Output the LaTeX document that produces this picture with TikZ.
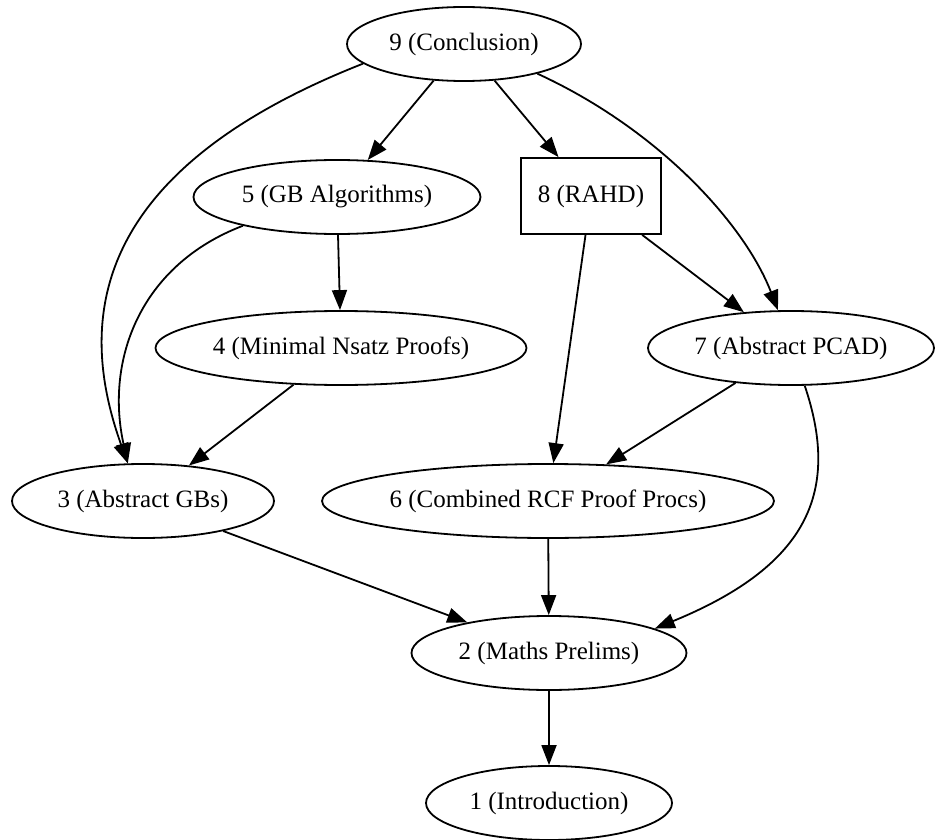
\documentclass[tikz,border=0pt]{standalone}
\usepackage{fontspec}
\setmainfont{Liberation Serif}
\usetikzlibrary{shapes.geometric,arrows.meta}
\tikzset{chap/.style={draw,ellipse,inner sep=0pt,minimum height=74pt,minimum width=#1},
    chapbox/.style={draw,rectangle,inner sep=0pt,minimum height=76pt,minimum width=140pt},
    every node/.style={font=\fontsize{25}{30}\selectfont},
    dep/.style={-{Triangle[length=20pt,width=15pt]}},
    }

\begin{document}
\begin{tikzpicture}[x=1pt,y=-1pt,line width=1.8pt]
\useasboundingbox (0,0) rectangle (935,840);
\node[chap=234] (concl) at (464,44) {9 (Conclusion)};
\node[chap=287] (gbalg) at (337,197) {5 (GB Algorithms)};
\node[chapbox] (rahd) at (591,196) {8 (RAHD)};
\node[chap=371] (nsatz) at (341,348) {4 (Minimal Nsatz Proofs)};
\node[chap=286] (pcad) at (791,348) {7 (Abstract PCAD)};
\node[chap=262] (absgb) at (143,501) {3 (Abstract GBs)};
\node[chap=452] (rcf) at (548,501) {6 (Combined RCF Proof Procs)};
\node[chap=275] (prelim) at (549,653) {2 (Maths Prelims)};
\node[chap=246] (intro) at (549,803) {1 (Introduction)};
% straight dependencies
\draw[dep] (concl) -- (gbalg);
\draw[dep] (concl) -- (rahd);
\draw[dep] (gbalg) -- (nsatz);
\draw[dep] (nsatz) -- (absgb);
\draw[dep] (rahd) -- (pcad);
\draw[dep] (rahd) -- (rcf);
\draw[dep] (pcad) -- (rcf);
\draw[dep] (absgb) -- (prelim);
\draw[dep] (rcf) -- (prelim);
\draw[dep] (prelim) -- (intro);
% curved ones
\draw[dep] (concl.191) .. controls (80,175) and (80,330) .. (absgb.112);
\draw[dep] (gbalg.197) .. controls (140,265) and (105,360) .. (absgb.112);
\draw[dep] (concl.-22) .. controls (660,130) and (745,225) .. (pcad.109);
\draw[dep] (pcad.-70) .. controls (840,490) and (810,565) .. (prelim.13);
\end{tikzpicture}
\end{document}
